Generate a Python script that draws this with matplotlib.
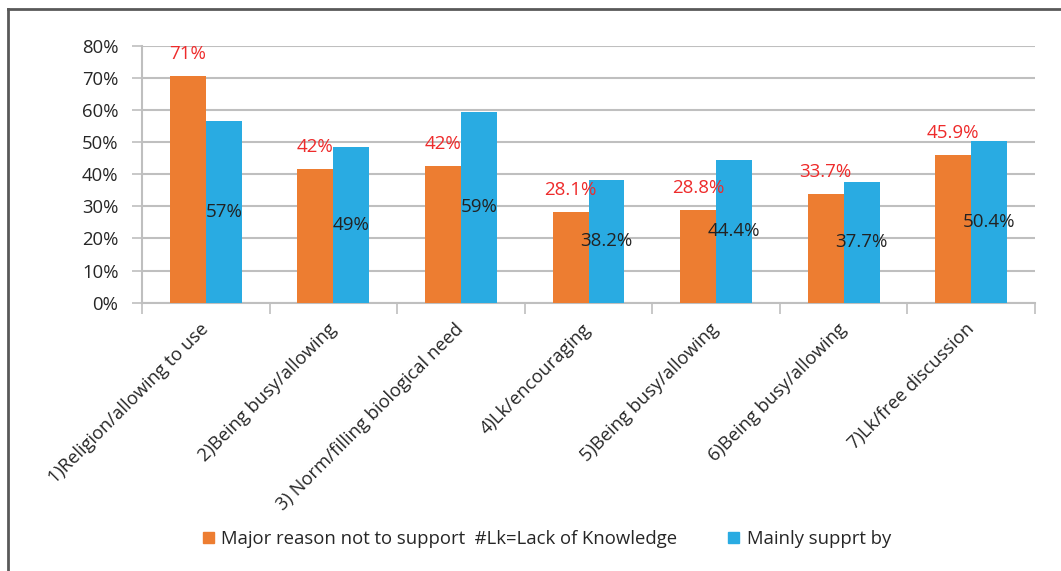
import numpy as np
import matplotlib
matplotlib.use("Agg")
import matplotlib.pyplot as plt
from matplotlib.patches import Patch
from matplotlib.lines import Line2D

plt.rcParams['font.family'] = ['Open Sans', 'DejaVu Sans']

categories = ['1)Religion/allowing to use', '2)Being busy/allowing',
              '3) Norm/filling biological need', '4)Lk/encouraging',
              '5)Being busy/allowing', '6)Being busy/allowing',
              '7)Lk/free discussion']
not_support = [70.6, 41.6, 42.4, 28.1, 28.8, 33.7, 45.9]
not_support_lbl = ['71%', '42%', '42%', '28.1%', '28.8%', '33.7%', '45.9%']
support = [56.5, 48.6, 59.4, 38.2, 44.4, 37.7, 50.4]
support_lbl = ['57%', '49%', '59%', '38.2%', '44.4%', '37.7%', '50.4%']
legend_names = ['Major reason not to support  #Lk=Lack of Knowledge', 'Mainly supprt by']

orange = '#ED7D31'
blue = '#29ABE2'
grey = '#BFBFBF'

fig = plt.figure(figsize=(10.61, 5.71), dpi=100)
ax = fig.add_axes([142/1061, 1-302.7/571, (1035-142)/1061, (302.7-45.7)/571])

x = np.arange(len(categories))
w = 0.282
ax.bar(x - w/2, not_support, w, color=orange, zorder=3)
ax.bar(x + w/2, support, w, color=blue, zorder=3)

for xi, v, s in zip(x, not_support, not_support_lbl):
    ax.annotate(s, (xi - w/2, v), xytext=(0, 16), textcoords='offset points',
                ha='center', va='center', color='#EE2B2B', fontsize=13.5)
for xi, v, s in zip(x, support, support_lbl):
    ax.text(xi + w/2, v/2, s, ha='center', va='center', color='#222222', fontsize=13.5)

ax.set_xlim(-0.5, len(categories) - 0.5)
ax.set_ylim(0, 80)
ax.set_yticks(np.arange(0, 81, 10))
ax.set_yticklabels([f'{t}%' for t in range(0, 81, 10)], fontsize=13.3, color='#262626')
ax.yaxis.grid(True, color=grey, lw=1.5, zorder=0)
ax.set_axisbelow(True)

ax.set_xticks(np.arange(-0.5, len(categories), 1))
ax.set_xticklabels([])
ax.set_xticks(x, minor=True)
ax.set_xticklabels(categories, minor=True, fontsize=13.2, color='#262626')
ax.tick_params(axis='x', which='major', length=8, color=grey, width=1.2)
ax.tick_params(axis='x', which='minor', length=0, pad=17)
ax.tick_params(axis='y', length=7, color=grey, width=1.2, pad=10)
plt.setp(ax.get_xticklabels(minor=True), rotation=45, ha='right', va='center',
         rotation_mode='anchor')

for side in ['top', 'right']:
    ax.spines[side].set_visible(False)
for side in ['left', 'bottom']:
    ax.spines[side].set_color(grey)
    ax.spines[side].set_linewidth(1.5)

handles = [Patch(color=orange), Patch(color=blue)]
fig.legend(handles, legend_names, loc='center', bbox_to_anchor=(547/1061, 1-539/571),
           ncol=2, frameon=False, fontsize=13.3, handlelength=0.6, handleheight=0.6,
           handletextpad=0.4, columnspacing=2.75, labelcolor='#262626')

# outer frame (left and top edges only are visible)
fig.add_artist(Line2D([8/1061, 8/1061], [0, 1-8.5/571], color='#595959', lw=2))
fig.add_artist(Line2D([8/1061, 1], [1-8.5/571, 1-8.5/571], color='#595959', lw=2))

fig.savefig('out.png', dpi=100)
